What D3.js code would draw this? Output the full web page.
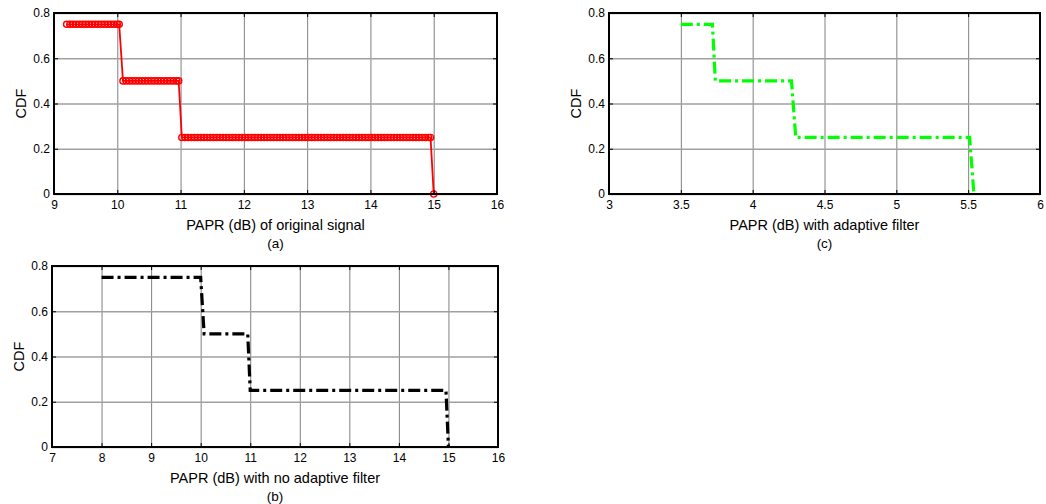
<!DOCTYPE html>
<html>
<head>
<meta charset="utf-8">
<script src="https://cdn.jsdelivr.net/npm/d3@7"></script>
<style>
body { margin: 0; background: #fff; }
svg { display: block; font-family: "Liberation Sans", Arial, sans-serif; }
.grid-x line { stroke: #808080; stroke-width: 1; }
.grid-y line { stroke: #a0a0a0; stroke-width: 1.3; }
.grid-x path, .grid-y path, .axis path { display: none; }
.axis line { stroke: #000; stroke-width: 1; }
.axis text { font-size: 12px; fill: #000; }
.frame { fill: none; stroke: #000; stroke-width: 2; }
.x-label, .y-label { font-size: 14.5px; fill: #000; }
.caption { font-size: 13.5px; fill: #000; }
</style>
</head>
<body>
<svg width="1046" height="504"></svg>
<script>
// ---- data ----
var cdfTicks = [0, 0.2, 0.4, 0.6, 0.8];

// (a) original signal: dense samples on each CDF level
var origLevels = [0.75, 0.5, 0.25, 0];
var origPaprByLevel = [
  [9.2, 9.25, 9.3, 9.35, 9.4, 9.45, 9.5, 9.55, 9.6, 9.65, 9.7, 9.75, 9.8, 9.85, 9.9, 9.95, 10.0, 10.03],
  [10.09, 10.14, 10.19, 10.24, 10.29, 10.34, 10.39, 10.44, 10.49, 10.54, 10.59, 10.64, 10.69, 10.74, 10.79,
   10.84, 10.89, 10.94, 10.97],
  [11.02, 11.07, 11.12, 11.17, 11.22, 11.27, 11.32, 11.37, 11.42, 11.47, 11.52, 11.57, 11.62, 11.67, 11.72,
   11.77, 11.82, 11.87, 11.92, 11.97,
   12.02, 12.07, 12.12, 12.17, 12.22, 12.27, 12.32, 12.37, 12.42, 12.47, 12.52, 12.57, 12.62, 12.67, 12.72,
   12.77, 12.82, 12.87, 12.92, 12.97,
   13.02, 13.07, 13.12, 13.17, 13.22, 13.27, 13.32, 13.37, 13.42, 13.47, 13.52, 13.57, 13.62, 13.67, 13.72,
   13.77, 13.82, 13.87, 13.92, 13.97,
   14.02, 14.07, 14.12, 14.17, 14.22, 14.27, 14.32, 14.37, 14.42, 14.47, 14.52, 14.57, 14.62, 14.67, 14.72,
   14.77, 14.82, 14.87, 14.92, 14.95],
  [15.0]
];
var origTicks = [9, 10, 11, 12, 13, 14, 15, 16];

// (b) no adaptive filter
var noFilterPapr = [8, 10.0, 10.07, 10.95, 11.0, 14.95, 15.0];
var noFilterCdf  = [0.75, 0.75, 0.5, 0.5, 0.25, 0.25, 0];
var noFilterTicks = [7, 8, 9, 10, 11, 12, 13, 14, 15, 16];

// (c) with adaptive filter
var filterPapr = [3.5, 3.72, 3.74, 4.27, 4.3, 5.51, 5.54];
var filterCdf  = [0.75, 0.75, 0.5, 0.5, 0.25, 0.25, 0];
var filterTicks = [3, 3.5, 4, 4.5, 5, 5.5, 6];

// ---- drawing ----
var svg = d3.select("svg");
var fmt = d3.format("~g");

function drawPanel(cfg) {
  var w = cfg.right - cfg.left,
      h = cfg.bottom - cfg.top;

  var g = svg.append("g")
      .attr("transform", "translate(" + cfg.left + "," + cfg.top + ")");

  var x = d3.scaleLinear().domain(cfg.xDomain).range([0, w]);
  var y = d3.scaleLinear().domain([0, 0.8]).range([h, 0]);

  // grid
  g.append("g")
      .attr("class", "grid-x")
      .attr("transform", "translate(0," + h + ")")
      .call(d3.axisBottom(x).tickValues(cfg.xTicks).tickSize(-h).tickFormat(""));
  g.append("g")
      .attr("class", "grid-y")
      .call(d3.axisLeft(y).tickValues(cdfTicks).tickSize(-w).tickFormat(""));

  cfg.draw(g, x, y);

  // box + inward ticks on every side
  g.append("rect")
      .attr("class", "frame")
      .attr("width", w)
      .attr("height", h);
  g.append("g")
      .attr("class", "axis")
      .attr("transform", "translate(0," + h + ")")
      .call(d3.axisBottom(x).tickValues(cfg.xTicks).tickSize(-4).tickPadding(6.5).tickFormat(fmt));
  g.append("g")
      .attr("class", "axis")
      .call(d3.axisTop(x).tickValues(cfg.xTicks).tickSize(-4).tickFormat(""));
  g.append("g")
      .attr("class", "axis")
      .call(d3.axisLeft(y).tickValues(cdfTicks).tickSize(-4).tickPadding(4).tickFormat(fmt));
  g.append("g")
      .attr("class", "axis")
      .attr("transform", "translate(" + w + ",0)")
      .call(d3.axisRight(y).tickValues(cdfTicks).tickSize(-4).tickFormat(""));

  // labels
  g.append("text")
      .attr("class", "x-label")
      .attr("x", w / 2)
      .attr("y", h + 36)
      .attr("text-anchor", "middle")
      .text(cfg.xLabel);
  g.append("text")
      .attr("class", "caption")
      .attr("x", w / 2)
      .attr("y", h + 54)
      .attr("text-anchor", "middle")
      .text(cfg.caption);
  g.append("text")
      .attr("class", "y-label")
      .attr("transform", "translate(-28," + (h / 2) + ") rotate(-90)")
      .attr("text-anchor", "middle")
      .text("CDF");
}

function dashDot(color, xs, ys) {
  return function(g, x, y) {
    var pts = xs.map(function(d, i) { return [d, ys[i]]; });
    g.append("path")
        .datum(pts)
        .attr("fill", "none")
        .attr("stroke", color)
        .attr("stroke-width", 3.2)
        .attr("stroke-dasharray", "12,4,3,4")
        .attr("d", d3.line()
          .x(function(d) { return x(d[0]); })
          .y(function(d) { return y(d[1]); }));
  };
}

// (a)
drawPanel({
  left: 54, top: 13, right: 497, bottom: 194,
  xDomain: [9, 16], xTicks: origTicks,
  xLabel: "PAPR (dB) of original signal", caption: "(a)",
  draw: function(g, x, y) {
    var pts = [];
    origPaprByLevel.forEach(function(list, i) {
      list.forEach(function(p) { pts.push([p, origLevels[i]]); });
    });
    g.append("path")
        .datum(pts)
        .attr("fill", "none")
        .attr("stroke", "#ff0000")
        .attr("stroke-width", 1.8)
        .attr("d", d3.line()
          .x(function(d) { return x(d[0]); })
          .y(function(d) { return y(d[1]); }));
    g.selectAll(".marker")
        .data(pts)
      .enter().append("circle")
        .attr("class", "marker")
        .attr("cx", function(d) { return x(d[0]); })
        .attr("cy", function(d) { return y(d[1]); })
        .attr("r", 3.1)
        .attr("fill", "none")
        .attr("stroke", "#ff0000")
        .attr("stroke-width", 1.4);
  }
});

// (b)
drawPanel({
  left: 52, top: 266, right: 498, bottom: 447,
  xDomain: [7, 16], xTicks: noFilterTicks,
  xLabel: "PAPR (dB) with no adaptive filter", caption: "(b)",
  draw: dashDot("#000000", noFilterPapr, noFilterCdf)
});

// (c)
drawPanel({
  left: 609, top: 13, right: 1040, bottom: 194,
  xDomain: [3, 6], xTicks: filterTicks,
  xLabel: "PAPR (dB) with adaptive filter", caption: "(c)",
  draw: dashDot("#00ff00", filterPapr, filterCdf)
});
</script>
</body>
</html>
